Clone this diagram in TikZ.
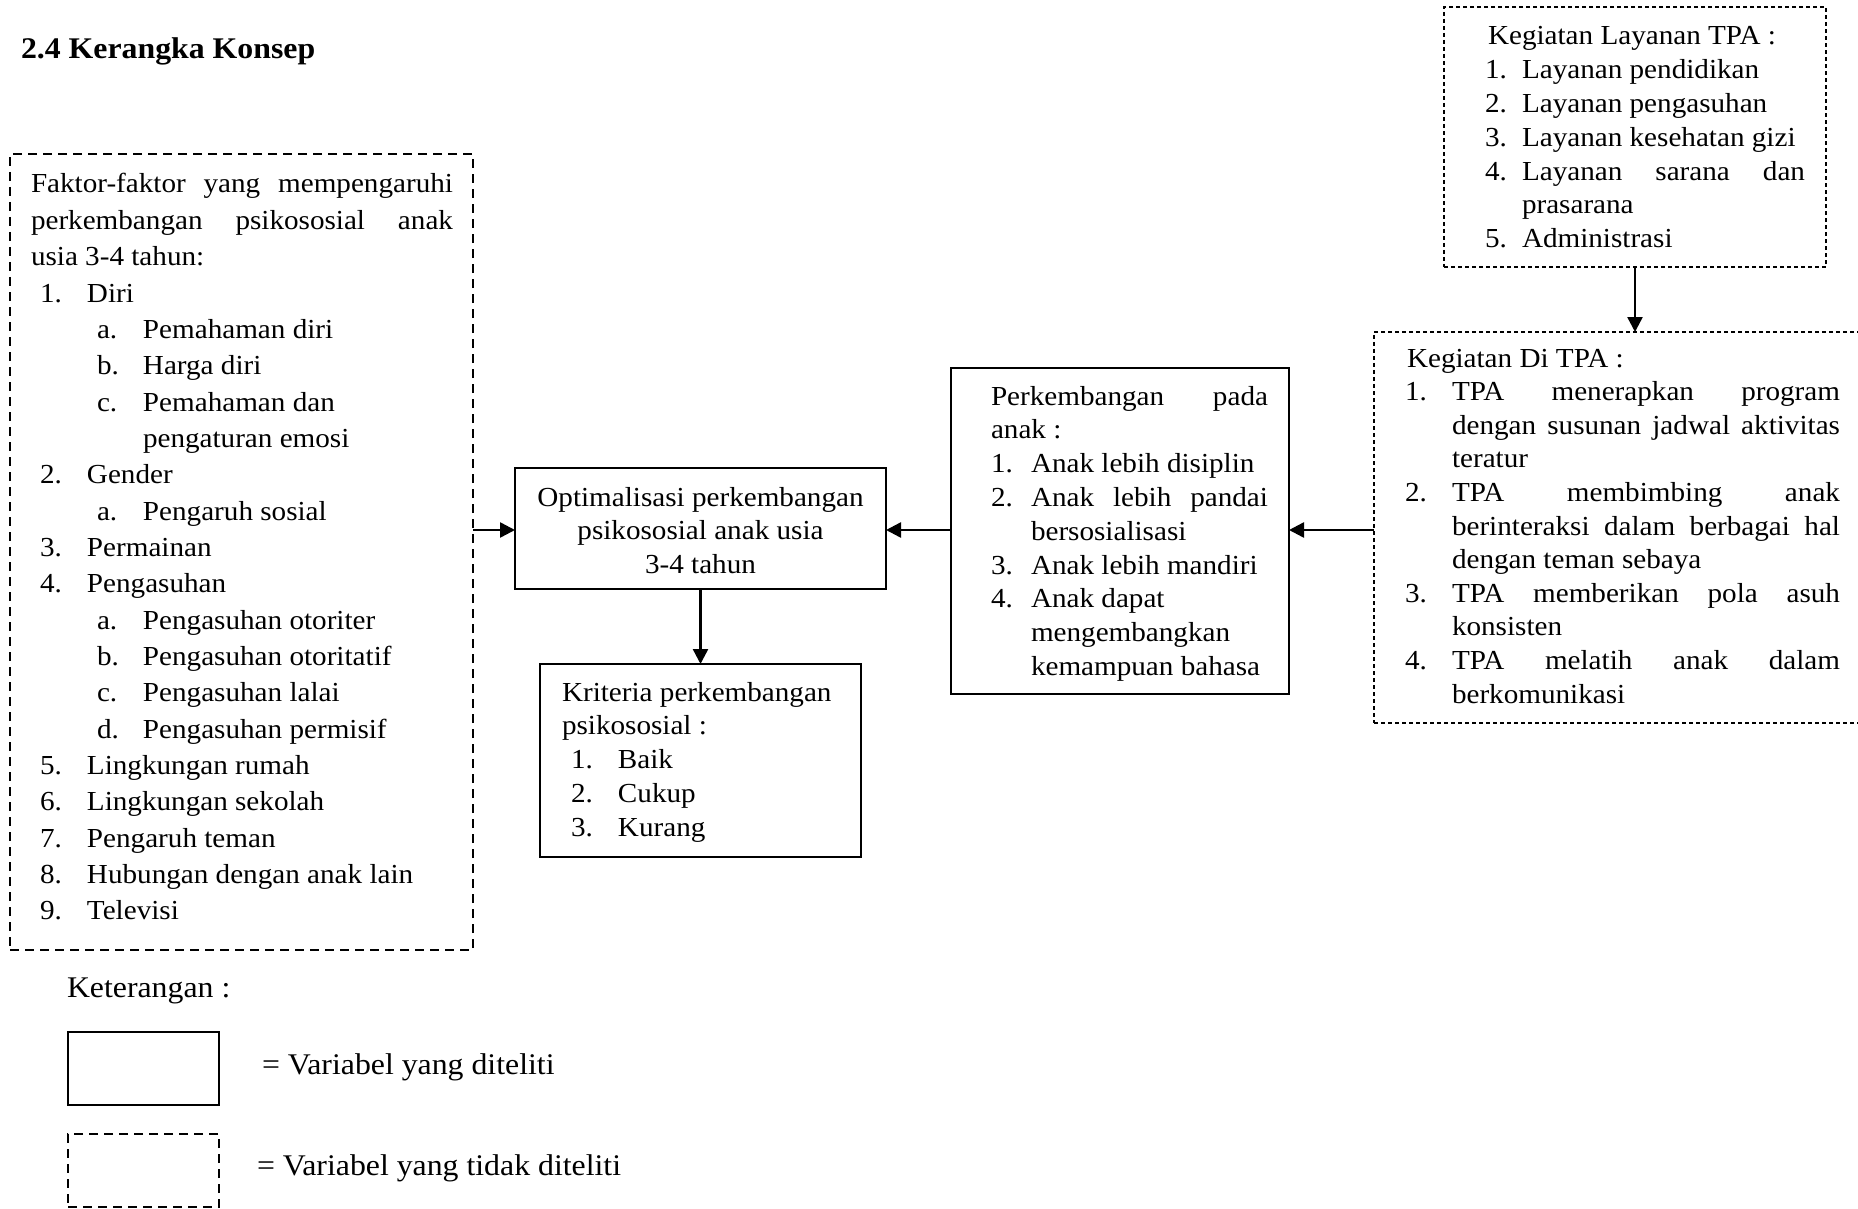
\documentclass[tikz,border=0pt]{standalone}
\usepackage{fontspec}
\setmainfont{Liberation Serif}[FakeStretch=1.06]
\usetikzlibrary{arrows.meta}
\newcommand\jl[1]{\makebox[\linewidth][s]{#1}\par}
\newcommand\pl[1]{#1\par}
\newcommand\itm[4]{\hspace*{#1pt}\makebox[#2pt][l]{#3}#4\par}
\newcommand\jitm[4]{\hspace*{#1pt}\makebox[#2pt][l]{#3}\makebox[\dimexpr\linewidth-#1pt-#2pt\relax][s]{#4}\par}
\newcommand\cont[2]{\hspace*{#1pt}#2\par}
\newcommand\jcont[2]{\hspace*{#1pt}\makebox[\dimexpr\linewidth-#1pt\relax][s]{#2}\par}
\begin{document}
\begin{tikzpicture}[x=1pt,y=-1pt,
  solidbox/.style={draw, line width=2.4pt, inner sep=0pt, outer sep=0pt},
  dashbox/.style={draw, line width=2pt, dash pattern=on 9pt off 6pt, inner sep=0pt, outer sep=0pt},
  finebox/.style={draw, line width=1.3pt, dash pattern=on 4pt off 3pt, inner sep=0pt, outer sep=0pt},
  txt/.style={inner sep=0pt, outer sep=0pt},
  arr/.style={-{Triangle[length=15pt,width=15pt]}, line width=2.5pt}]
\useasboundingbox (0,0) rectangle (1858,1209);
\fill[white] (0,0) rectangle (1858,1209);

% title
\node[txt, anchor=base west] (title) at (21,59) {\fontsize{30}{34}\selectfont\bfseries 2.4 Kerangka Konsep};

% boxes
\node[dashbox, minimum width=463pt, minimum height=796pt] (faktor) at (241.5,552) {};
\node[finebox, minimum width=382pt, minimum height=260pt] (layanan) at (1635,137) {};
\node[finebox, minimum width=496pt, minimum height=391pt] (kdi) at (1622,527.5) {};
\node[solidbox, minimum width=371pt, minimum height=121pt] (opt) at (700.5,528.5) {};
\node[solidbox, minimum width=338pt, minimum height=326pt] (perk) at (1120,531) {};
\node[solidbox, minimum width=321pt, minimum height=193pt] (krit) at (700.5,760.5) {};
\node[solidbox, line width=2.8pt, minimum width=151pt, minimum height=73pt] (leg1) at (143.5,1068.5) {};
\node[dashbox, minimum width=151pt, minimum height=73pt] (leg2) at (143.5,1170.5) {};

% left box text
\node[txt, anchor=base west] (faktortext) at (31,193) {\begin{minipage}[t]{422pt}\fontsize{27.5}{36.35}\selectfont
\jl{Faktor-faktor yang mempengaruhi}
\jl{perkembangan psikososial anak}
\pl{usia 3-4 tahun:}
\itm{9}{47}{1.}{Diri}
\itm{66}{46}{a.}{Pemahaman diri}
\itm{66}{46}{b.}{Harga diri}
\itm{66}{46}{c.}{Pemahaman dan}
\cont{112}{pengaturan emosi}
\itm{9}{47}{2.}{Gender}
\itm{66}{46}{a.}{Pengaruh sosial}
\itm{9}{47}{3.}{Permainan}
\itm{9}{47}{4.}{Pengasuhan}
\itm{66}{46}{a.}{Pengasuhan otoriter}
\itm{66}{46}{b.}{Pengasuhan otoritatif}
\itm{66}{46}{c.}{Pengasuhan lalai}
\itm{66}{46}{d.}{Pengasuhan permisif}
\itm{9}{47}{5.}{Lingkungan rumah}
\itm{9}{47}{6.}{Lingkungan sekolah}
\itm{9}{47}{7.}{Pengaruh teman}
\itm{9}{47}{8.}{Hubungan dengan anak lain}
\itm{9}{47}{9.}{Televisi}
\end{minipage}};

% top right text
\node[txt, anchor=base west] (layanantext) at (1485,45) {\begin{minipage}[t]{320pt}\fontsize{27.5}{33.8}\selectfont
\cont{3}{Kegiatan Layanan TPA :}
\itm{0}{37}{1.}{Layanan pendidikan}
\itm{0}{37}{2.}{Layanan pengasuhan}
\itm{0}{37}{3.}{Layanan kesehatan gizi}
\jitm{0}{37}{4.}{Layanan sarana dan}
\cont{37}{prasarana}
\itm{0}{37}{5.}{Administrasi}
\end{minipage}};

% kegiatan di TPA text
\node[txt, anchor=base west] (kditext) at (1405,367) {\begin{minipage}[t]{435pt}\fontsize{27.5}{33.6}\selectfont
\cont{2}{Kegiatan Di TPA :}
\jitm{0}{47}{1.}{TPA menerapkan program}
\jcont{47}{dengan susunan jadwal aktivitas}
\cont{47}{teratur}
\jitm{0}{47}{2.}{TPA membimbing anak}
\jcont{47}{berinteraksi dalam berbagai hal}
\cont{47}{dengan teman sebaya}
\jitm{0}{47}{3.}{TPA memberikan pola asuh}
\cont{47}{konsisten}
\jitm{0}{47}{4.}{TPA melatih anak dalam}
\cont{47}{berkomunikasi}
\end{minipage}};

% perkembangan text
\node[txt, anchor=base west] (perktext) at (991,405) {\begin{minipage}[t]{277pt}\fontsize{27.5}{33.8}\selectfont
\jl{Perkembangan pada}
\pl{anak :}
\itm{0}{40}{1.}{Anak lebih disiplin}
\jitm{0}{40}{2.}{Anak lebih pandai}
\cont{40}{bersosialisasi}
\itm{0}{40}{3.}{Anak lebih mandiri}
\itm{0}{40}{4.}{Anak dapat}
\cont{40}{mengembangkan}
\cont{40}{kemampuan bahasa}
\end{minipage}};

% optimalisasi text
\node[txt, anchor=base] (opttext) at (700.5,506) {\begin{minipage}[t]{360pt}\centering\fontsize{27.5}{33.5}\selectfont
Optimalisasi perkembangan\par
psikososial anak usia\par
3-4 tahun\par
\end{minipage}};

% kriteria text
\node[txt, anchor=base west] (krittext) at (562,701) {\begin{minipage}[t]{290pt}\fontsize{27.5}{33.8}\selectfont
\pl{Kriteria perkembangan}
\pl{psikososial :}
\itm{9}{47}{1.}{Baik}
\itm{9}{47}{2.}{Cukup}
\itm{9}{47}{3.}{Kurang}
\end{minipage}};

% legend
\node[txt, anchor=base west] (ket) at (67,997) {\fontsize{30}{34}\selectfont Keterangan :};
\node[txt, anchor=base west] (leg1text) at (262,1074) {\fontsize{30}{34}\selectfont = Variabel yang diteliti};
\node[txt, anchor=base west] (leg2text) at (257,1175) {\fontsize{30}{34}\selectfont = Variabel yang tidak diteliti};

% connectors
\draw[arr] (faktor.east |- 0,530) -- (opt.west |- 0,530);
\draw[arr] (perk.west |- 0,530) -- (opt.east |- 0,530);
\draw[arr] (kdi.west |- 0,530) -- (perk.east |- 0,530);
\draw[arr] (opt.south) -- (krit.north);
\draw[arr] (layanan.south) -- (layanan.south |- kdi.north);
\end{tikzpicture}
\end{document}
